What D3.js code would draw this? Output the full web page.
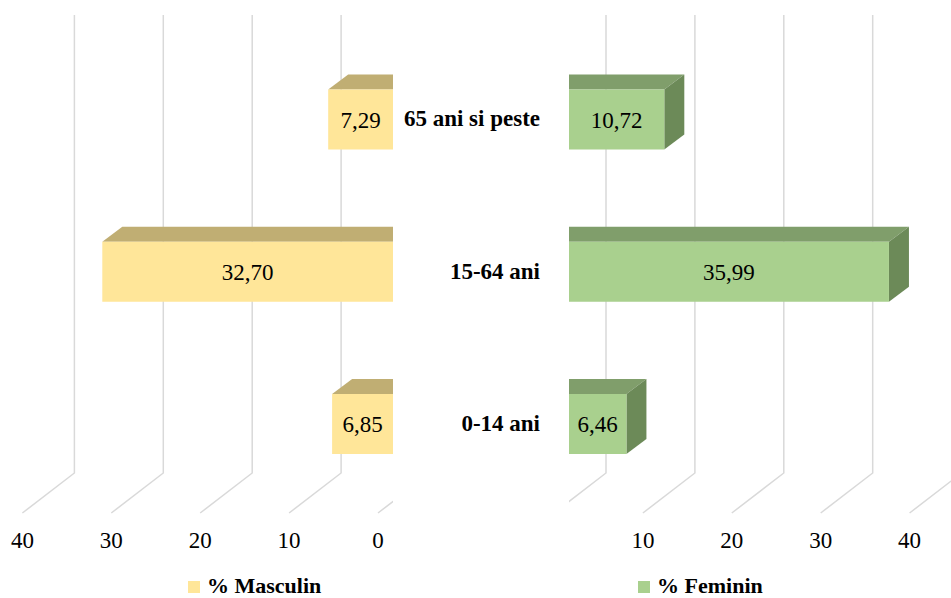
<!DOCTYPE html>
<html>
<head>
<meta charset="utf-8">
<script src="https://cdn.jsdelivr.net/npm/d3@7"></script>
<style>
  html, body { margin: 0; padding: 0; background: #fff; }
  svg { display: block; }
  svg text { font-family: "Liberation Serif", Tinos, "DejaVu Serif", "Noto Serif", "Times New Roman", Times, serif; }
</style>
</head>
<body>
<script>
// Population structure by age group and sex (%)
const categories = ["65 ani si peste", "15-64 ani", "0-14 ani"];
const masculin = [7.29, 32.70, 6.85];
const feminin = [10.72, 35.99, 6.46];
const ticksLeft = [40, 30, 20, 10, 0];
const ticksRight = [10, 20, 30, 40];
const gridRight = [0, 10, 20, 30, 40];
const legendLabels = ["% Masculin", "% Feminin"];

const W = 951, H = 598;
const svg = d3.select("body").append("svg").attr("width", W).attr("height", H);

const colors = {
  m: { front: "#FFE699", top: "#C0AE73", side: "#A89660" },
  f: { front: "#A9D08E", top: "#809E6B", side: "#6C8A58" }
};

// Front-face scales for both halves (left mirrored)
const xL = d3.scaleLinear().domain([0, 40]).range([393, 37.4]);
const xR = d3.scaleLinear().domain([0, 40]).range([569, 924.6]);
const y = d3.scalePoint().domain(categories).range([119.5, 424]);

const barH = 60;
const depth = { dx: 20, dy: -15 };      // bar depth offset
const floor = { front: 513, back: 473, top: 15, dFront: -15, dBack: 37 };

const fmt = d3.formatLocale({ decimal: ",", thousands: ".", grouping: [3], currency: ["", ""] }).format(".2f");

const defs = svg.append("defs");
defs.append("clipPath").attr("id", "clipL").append("rect")
  .attr("x", 0).attr("y", 0).attr("width", 393).attr("height", H);
defs.append("clipPath").attr("id", "clipR").append("rect")
  .attr("x", 569).attr("y", 0).attr("width", W - 569).attr("height", H);

function drawGrid(g, x, values) {
  const path = v => {
    const xf = x(v) + floor.dFront, xb = x(v) + floor.dBack;
    return `M${xf},${floor.front}L${xb},${floor.back}L${xb},${floor.top}`;
  };
  g.selectAll("path.grid").data(values).join("path")
    .attr("class", "grid")
    .attr("d", path)
    .attr("fill", "none")
    .attr("stroke", "#D9D9D9")
    .attr("stroke-width", 1.5);
}

const gL = svg.append("g").attr("clip-path", "url(#clipL)");
const gR = svg.append("g").attr("clip-path", "url(#clipR)");
drawGrid(gL, xL, ticksLeft);
drawGrid(gR, xR, gridRight);

// Left (male) bars: extend to the left, top face visible
masculin.forEach((v, i) => {
  const c = categories[i];
  const x0 = xL(0), x1 = xL(v), yt = y(c) - barH / 2;
  gL.append("path")
    .attr("d", `M${x1},${yt}L${x1 + depth.dx},${yt + depth.dy}L${x0 + depth.dx},${yt + depth.dy}L${x0},${yt}Z`)
    .attr("fill", colors.m.top);
  gL.append("rect")
    .attr("x", x1).attr("y", yt).attr("width", x0 - x1).attr("height", barH)
    .attr("fill", colors.m.front);
});

// Right (female) bars: top and right side faces visible
feminin.forEach((v, i) => {
  const c = categories[i];
  const x0 = xR(0), x1 = xR(v), yt = y(c) - barH / 2;
  gR.append("path")
    .attr("d", `M${x0},${yt}L${x0},${yt + depth.dy}L${x1 + depth.dx},${yt + depth.dy}L${x1},${yt}Z`)
    .attr("fill", colors.f.top);
  gR.append("path")
    .attr("d", `M${x1},${yt}L${x1 + depth.dx},${yt + depth.dy}L${x1 + depth.dx},${yt + barH + depth.dy}L${x1},${yt + barH}Z`)
    .attr("fill", colors.f.side);
  gR.append("rect")
    .attr("x", x0).attr("y", yt).attr("width", x1 - x0).attr("height", barH)
    .attr("fill", colors.f.front);
});

// Value labels
svg.append("g").selectAll("text").data(masculin).join("text")
  .attr("x", (d) => (xL(0) + xL(d)) / 2)
  .attr("y", (d, i) => y(categories[i]))
  .attr("dy", "0.35em")
  .attr("text-anchor", "middle")
  .style("font-size", "23px")
  .text(d => fmt(d));

svg.append("g").selectAll("text").data(feminin).join("text")
  .attr("x", (d) => (xR(0) + xR(d)) / 2)
  .attr("y", (d, i) => y(categories[i]))
  .attr("dy", "0.35em")
  .attr("text-anchor", "middle")
  .style("font-size", "23px")
  .text(d => fmt(d));

// Category labels in the middle
svg.append("g").selectAll("text").data(categories).join("text")
  .attr("x", 540)
  .attr("y", d => y(d))
  .attr("dy", "0.3em")
  .attr("text-anchor", "end")
  .style("font-size", "23px")
  .style("font-weight", "bold")
  .text(d => d);

// Axis tick labels at the front edge of the floor
svg.append("g").selectAll("text").data(ticksLeft).join("text")
  .attr("x", d => xL(d) + floor.dFront)
  .attr("y", 548)
  .attr("text-anchor", "middle")
  .style("font-size", "23px")
  .text(d => d);

svg.append("g").selectAll("text").data(ticksRight).join("text")
  .attr("x", d => xR(d) + floor.dFront)
  .attr("y", 548)
  .attr("text-anchor", "middle")
  .style("font-size", "23px")
  .text(d => d);

// Legends
const legend = [
  { label: legendLabels[0], color: colors.m.front, x: 188 },
  { label: legendLabels[1], color: colors.f.front, x: 638 }
];
const lg = svg.append("g").selectAll("g").data(legend).join("g")
  .attr("transform", d => `translate(${d.x},581)`);
lg.append("rect").attr("width", 12).attr("height", 12).attr("fill", d => d.color);
lg.append("text")
  .attr("x", 19).attr("y", 12)
  .style("font-size", "22px")
  .style("font-weight", "bold")
  .text(d => d.label);
</script>
</body>
</html>
